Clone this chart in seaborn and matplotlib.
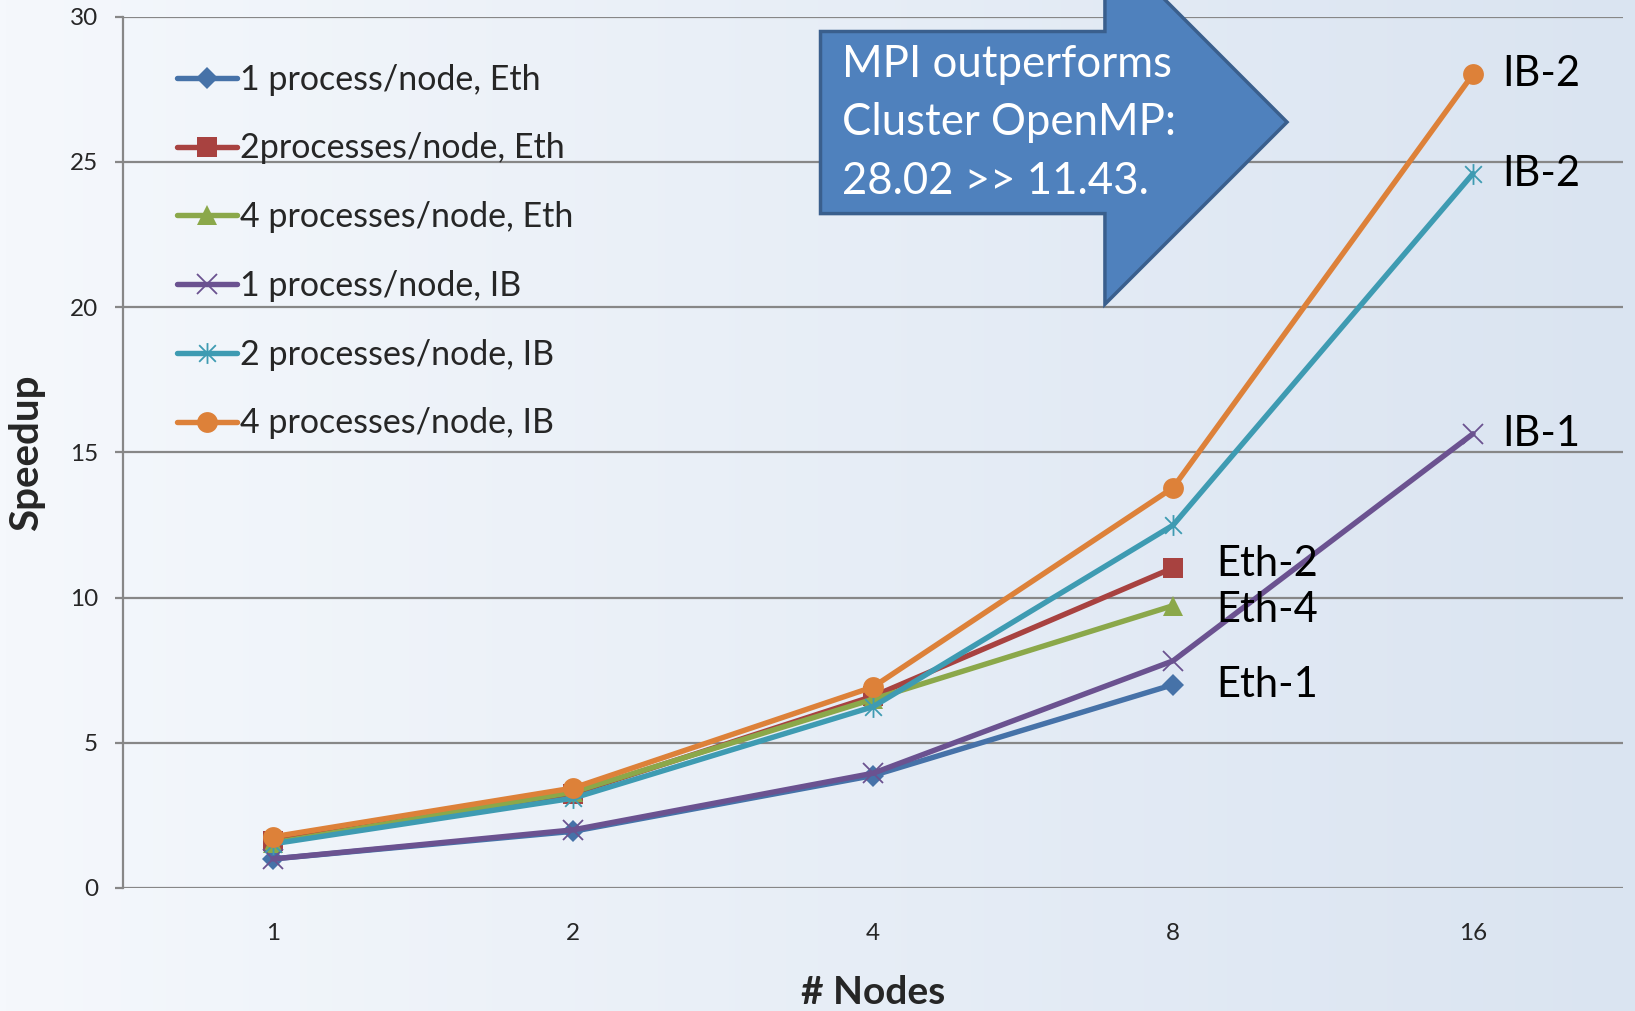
import numpy as np
import matplotlib
matplotlib.use("Agg")
import matplotlib.pyplot as plt
from matplotlib.colors import LinearSegmentedColormap
from matplotlib.lines import Line2D
from matplotlib.patches import Polygon
from matplotlib.path import Path
import seaborn as sns

# ---- data -------------------------------------------------------------
nodes = ["1", "2", "4", "8", "16"]

eth_1 = [1.0, 1.95, 3.87, 7.0]
eth_2 = [1.6, 3.25, 6.6, 11.02]
eth_4 = [1.55, 3.3, 6.5, 9.72]
ib_1 = [1.0, 2.0, 3.95, 7.82, 15.64]
ib_2 = [1.52, 3.09, 6.24, 12.49, 24.6]
ib_4 = [1.76, 3.44, 6.92, 13.78, 28.02]

series_labels = [
    "1 process/node, Eth",
    "2processes/node, Eth",
    "4 processes/node, Eth",
    "1 process/node, IB",
    "2 processes/node, IB",
    "4 processes/node, IB",
]
series_values = [eth_1, eth_2, eth_4, ib_1, ib_2, ib_4]
end_labels = ["Eth-1", "Eth-2", "Eth-4", "IB-1", "IB-2", "IB-2"]

y_ticks = [0, 5, 10, 15, 20, 25, 30]
callout_text = "MPI outperforms\nCluster OpenMP:\n28.02 >> 11.43."

# ---- styling ----------------------------------------------------------
sns.set_theme(style="white")
plt.rcParams["font.family"] = ["Lato", "DejaVu Sans"]

colors = ["#4672A8", "#A84240", "#8BA84A", "#6B5290", "#3E9BB2", "#DD8139"]

star = Path(
    [(-1, -1), (1, 1), (-1, 1), (1, -1), (0, -1.25), (0, 1.25)],
    [Path.MOVETO, Path.LINETO, Path.MOVETO, Path.LINETO, Path.MOVETO, Path.LINETO],
)
markers = ["D", "s", "^", "x", star, "o"]
marker_sizes = [11, 14, 15, 14, 15, 15]
edge_widths = [0, 0, 0, 1.3, 1.3, 0]
line_w = 3.9

# label offsets (points) beside the last point of each series
label_offsets = [(31, 0), (31, 3), (31, -3), (21, 0), (21, 0), (21, 0)]

fig = plt.figure(figsize=(16.35, 10.11), dpi=100)

# soft horizontal gradient behind everything
bg = fig.add_axes([0, 0, 1, 1])
bg.imshow(
    np.linspace(0, 1, 256).reshape(1, -1),
    aspect="auto",
    extent=[0, 1, 0, 1],
    cmap=LinearSegmentedColormap.from_list("bg", ["#F5F8FC", "#DAE4F1"]),
)
bg.axis("off")
bg.set_zorder(0)

ax = fig.add_axes([0.0752, 0.1217, 0.9175, 0.8618])
ax.set_zorder(1)
ax.patch.set_alpha(0)

for i, (vals, col, mk, ms, mew) in enumerate(
    zip(series_values, colors, markers, marker_sizes, edge_widths)
):
    sns.pointplot(
        x=nodes[: len(vals)],
        y=vals,
        order=nodes,
        color=col,
        marker=mk,
        markersize=ms,
        markeredgewidth=mew,
        linewidth=line_w,
        errorbar=None,
        ax=ax,
        zorder=3 + i,
    )

# text labels at the end of each series
for vals, txt, (dx, dy) in zip(series_values, end_labels, label_offsets):
    ax.annotate(
        txt,
        xy=(len(vals) - 1, vals[-1]),
        xytext=(dx, dy),
        textcoords="offset points",
        ha="left",
        va="center",
        fontsize=30,
        color="black",
        zorder=10,
    )

ax.set_ylim(0, 30)
ax.set_xlim(-0.5, len(nodes) - 0.5)
ax.set_yticks(y_ticks)
ax.set_xticks(range(len(nodes)))
ax.set_xticklabels(nodes)

ax.yaxis.grid(True, color="#878787", linewidth=1.6)
ax.xaxis.grid(False)
ax.set_axisbelow(True)
for side in ["top", "right", "bottom"]:
    ax.spines[side].set_visible(False)
ax.spines["left"].set_color("#878787")
ax.spines["left"].set_linewidth(1.6)

ax.tick_params(axis="y", which="major", direction="out", length=6, width=1.6,
               color="#878787", pad=12, labelsize=17.5, left=True)
ax.tick_params(axis="x", which="major", length=0, pad=25, labelsize=17.5)

ax.set_xlabel("# Nodes", fontsize=28, fontweight="bold")
ax.set_ylabel("Speedup", fontsize=29, fontweight="bold")
ax.xaxis.set_label_coords(0.5, -0.1)
ax.yaxis.set_label_coords(-0.052, 0.5)

# legend
handles = [
    Line2D([0], [0], color=c, linewidth=line_w, marker=m, markersize=ms,
           markeredgewidth=mew)
    for c, m, ms, mew in zip(colors, markers, marker_sizes, edge_widths)
]
ax.legend(
    handles,
    series_labels,
    loc="upper left",
    bbox_to_anchor=(0.036, 0.946),
    frameon=False,
    fontsize=24.5,
    handlelength=1.75,
    handletextpad=0.1,
    labelspacing=1.08,
    borderpad=0,
    borderaxespad=0,
)

# block-arrow callout
arrow = Polygon(
    [
        (0.465, 0.983), (0.6546, 0.983), (0.6546, 1.0885), (0.776, 0.879),
        (0.6546, 0.670), (0.6546, 0.774), (0.465, 0.774),
    ],
    closed=True,
    transform=ax.transAxes,
    facecolor="#4F81BD",
    edgecolor="#3A5F8D",
    linewidth=2.5,
    clip_on=False,
    zorder=8,
)
ax.add_patch(arrow)
ax.text(
    0.479, 0.878, callout_text,
    transform=ax.transAxes,
    ha="left", va="center",
    fontsize=31.5, color="white",
    linespacing=1.53,
    zorder=9,
)

fig.savefig("out.png", dpi=100)
